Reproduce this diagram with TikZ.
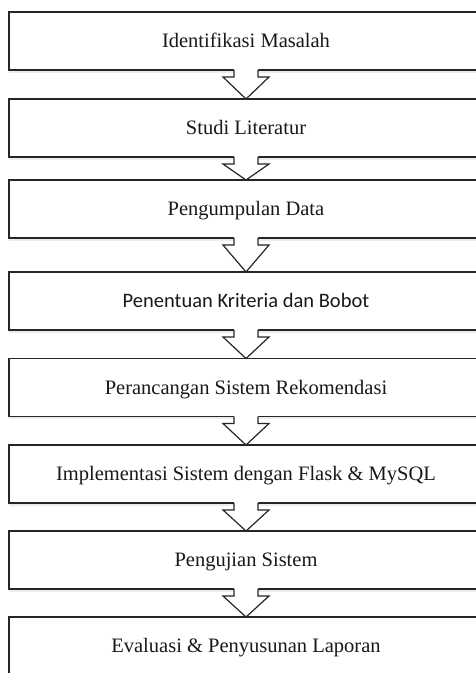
\documentclass[tikz,border=0pt]{standalone}
\usepackage{fontspec}
\setmainfont{Liberation Serif}
\newfontfamily\calibrilike{Carlito}
\usetikzlibrary{calc,shadows}

\tikzset{
  stagebox/.style={draw=black!85, line width=1.2pt, fill=white,
    minimum width=474pt, minimum height=58pt, inner sep=0pt, outer sep=0pt,
    text height=13.5pt, text depth=0.5pt, text=black!90,
    font=\fontsize{20.5}{24}\selectfont,
    drop shadow={shadow xshift=0pt, shadow yshift=-2.5pt, opacity=0.15}},
  flowarrow/.style={draw=black!85, line width=1.2pt, line join=miter}
}

% Hollow block arrow from the bottom edge of #1 down to the top edge of #2
\newcommand\stagearrow[2]{%
  \fill[white] ($(#1.south)+(-12,-0.8)$) -- ($(#1.south)+(-12,7)$)
    -- ($(#1.south)+(-23,7)$) -- (#2.north) -- ($(#1.south)+(23,7)$)
    -- ($(#1.south)+(12,7)$) -- ($(#1.south)+(12,-0.8)$) -- cycle;
  \draw[flowarrow] (#1.south) ++(-12,0) -- ++(0,7) -- ++(-11,0) -- (#2.north)
    -- ($(#1.south)+(23,7)$) -- ++(-11,0) -- ++(0,-7);
}

\begin{document}
\begin{tikzpicture}[x=1pt, y=-1pt]
  \useasboundingbox (0,0) rectangle (476,673);
  \fill[white] (0,0) rectangle (476,673);
  \clip (0,0) rectangle (476,673);

  \node[stagebox] (b1) at (246,41)    {Identifikasi Masalah};
  \node[stagebox] (b2) at (246,128)   {Studi Literatur};
  \node[stagebox] (b3) at (246,209)   {Pengumpulan Data};
  \node[stagebox] (b4) at (246,301)   {\calibrilike Penentuan Kriteria dan Bobot};
  \node[stagebox] (b5) at (246,387.5) {Perancangan Sistem Rekomendasi};
  \node[stagebox] (b6) at (246,474)   {Implementasi Sistem dengan Flask \& MySQL};
  \node[stagebox] (b7) at (246,560)   {Pengujian Sistem};
  \node[stagebox] (b8) at (246,646)   {Evaluasi \& Penyusunan Laporan};

  \stagearrow{b1}{b2}
  \stagearrow{b2}{b3}
  \stagearrow{b3}{b4}
  \stagearrow{b4}{b5}
  \stagearrow{b5}{b6}
  \stagearrow{b6}{b7}
  \stagearrow{b7}{b8}
\end{tikzpicture}
\end{document}
